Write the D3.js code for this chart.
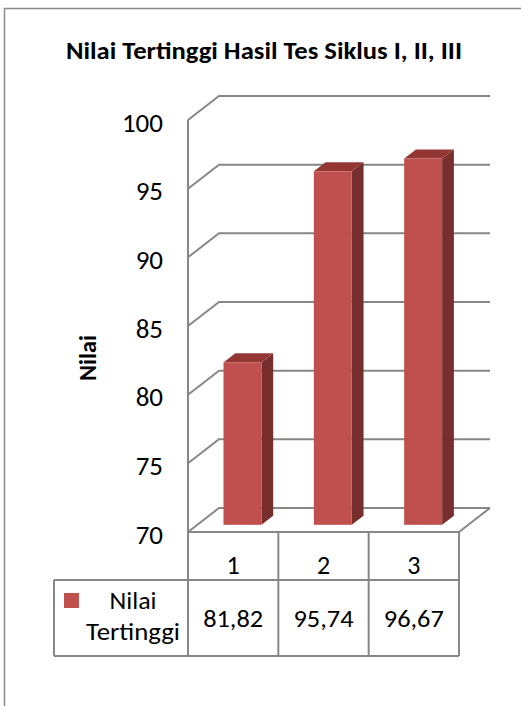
<!DOCTYPE html>
<html>
<head>
<meta charset="utf-8">
<script src="https://cdn.jsdelivr.net/npm/d3@7"></script>
<style>
  body { margin: 0; background: #fff; }
  svg text { font-family: Carlito, Lato, "Open Sans", sans-serif; fill: #000; }
</style>
</head>
<body>
<div id="chart"></div>
<script>
// chart data
var categories = ["1", "2", "3"];
var values = [81.82, 95.74, 96.67];
var valueLabels = ["81,82", "95,74", "96,67"];
var yTicks = [70, 75, 80, 85, 90, 95, 100];
var seriesName = ["Nilai", "Tertinggi"];
var chartTitle = "Nilai Tertinggi Hasil Tes Siklus I, II, III";
var yTitle = "Nilai";

var svgWidth = 521;
var svgHeight = 706;

var gridColor = "#878787";
var barFront = "#C0504D";
var barTop = "#943634";
var barSide = "#772F2D";

// depth of the 3d box (offset of the back wall)
var depthX = 31;
var depthY = -24;
function off(t) { return [depthX * t, depthY * t]; }

var svg = d3.select("#chart")
  .append("svg")
  .attr("width", svgWidth)
  .attr("height", svgHeight);

// outer frame (cut off at right / bottom)
svg.append("path")
  .attr("d", "M4.5,710 L4.5,8.5 L530,8.5")
  .attr("fill", "none")
  .attr("stroke", "#8a8a8a")
  .attr("stroke-width", 1.5);

// title
svg.append("text")
  .attr("x", 264)
  .attr("y", 59)
  .attr("text-anchor", "middle")
  .attr("font-weight", "bold")
  .attr("font-size", 24)
  .attr("textLength", 396)
  .attr("lengthAdjust", "spacingAndGlyphs")
  .text(chartTitle);

// scales (front plane)
var yScale = d3.scaleLinear().domain([70, 100]).range([532, 120]);
var xScale = d3.scaleBand().domain(categories).range([188, 459]).paddingInner(0).paddingOuter(0);

var grid = svg.append("g")
  .attr("fill", "none")
  .attr("stroke", gridColor)
  .attr("stroke-width", 2);

var d1 = off(1);
// side wall front edge
grid.append("line")
  .attr("x1", 188).attr("x2", 188)
  .attr("y1", yScale(100)).attr("y2", yScale(70));

// gridlines: diagonal on the side wall + horizontal on the back wall
yTicks.forEach(function(t) {
  var y = yScale(t);
  grid.append("path")
    .attr("d", "M188," + y + " L" + (188 + d1[0]) + "," + (y + d1[1]) +
      " L" + (xScale.range()[1] + d1[0]) + "," + (y + d1[1]));
});

// floor front edge and right edge
grid.append("path")
  .attr("d", "M188,532 L459,532 L" + (459 + d1[0]) + "," + (532 + d1[1]));

// y tick labels
var yAxis = d3.axisLeft(yScale).tickValues(yTicks).tickSize(0).tickPadding(25);
var yAxisG = svg.append("g")
  .attr("transform", "translate(188,11)")
  .call(yAxis);
yAxisG.select(".domain").remove();
yAxisG.selectAll("text")
  .attr("dy", 0)
  .attr("font-size", 27)
  .style("font-family", "Carlito, Lato, sans-serif")
  .attr("fill", "#000");

// y axis title
svg.append("text")
  .attr("transform", "translate(96,358) rotate(-90)")
  .attr("text-anchor", "middle")
  .attr("font-weight", "bold")
  .attr("font-size", 25)
  .attr("textLength", 46)
  .attr("lengthAdjust", "spacingAndGlyphs")
  .text(yTitle);

// 3d bars
var tFront = 0.3, tBack = 0.68;
var barW = xScale.bandwidth() * 0.42;
var bars = svg.append("g");
values.forEach(function(v, i) {
  var f = off(tFront), b = off(tBack);
  var x0 = xScale(categories[i]) + (xScale.bandwidth() - barW) / 2 + f[0];
  var x1 = x0 + barW;
  var yTop = yScale(v) + f[1];
  var yBot = yScale(70) + f[1];
  var dx = b[0] - f[0], dy = b[1] - f[1];
  // side
  bars.append("path")
    .attr("d", "M" + x1 + "," + yTop + " L" + (x1 + dx) + "," + (yTop + dy) +
      " L" + (x1 + dx) + "," + (yBot + dy) + " L" + x1 + "," + yBot + "Z")
    .attr("fill", barSide);
  // top
  bars.append("path")
    .attr("d", "M" + x0 + "," + yTop + " L" + (x0 + dx) + "," + (yTop + dy) +
      " L" + (x1 + dx) + "," + (yTop + dy) + " L" + x1 + "," + yTop + "Z")
    .attr("fill", barTop);
  // front
  bars.append("rect")
    .attr("x", x0).attr("y", yTop)
    .attr("width", barW).attr("height", yBot - yTop)
    .attr("fill", barFront);
});

// data table
var table = svg.append("g")
  .attr("fill", "none")
  .attr("stroke", gridColor)
  .attr("stroke-width", 2);
var row1 = 532, row2 = 580, row3 = 656, legendX = 54;
table.append("path")
  .attr("d", "M188," + row1 + " L188," + row3 + " M459," + row1 + " L459," + row3 +
    " M" + legendX + "," + row2 + " L459," + row2 +
    " M" + legendX + "," + row3 + " L459," + row3 +
    " M" + legendX + "," + row2 + " L" + legendX + "," + row3);
categories.forEach(function(c) {
  table.append("line")
    .attr("x1", xScale(c) + xScale.bandwidth()).attr("x2", xScale(c) + xScale.bandwidth())
    .attr("y1", row1).attr("y2", row3);
});

svg.append("g").selectAll("text")
  .data(categories)
  .enter()
  .append("text")
  .attr("x", d => xScale(d) + xScale.bandwidth() / 2)
  .attr("y", 574)
  .attr("text-anchor", "middle")
  .attr("font-size", 26)
  .text(d => d);

svg.append("g").selectAll("text")
  .data(valueLabels)
  .enter()
  .append("text")
  .attr("x", (d, i) => xScale(categories[i]) + xScale.bandwidth() / 2)
  .attr("y", 627)
  .attr("text-anchor", "middle")
  .attr("font-size", 25)
  .attr("textLength", 60)
  .attr("lengthAdjust", "spacingAndGlyphs")
  .text(d => d);

// legend key
svg.append("rect")
  .attr("x", 64).attr("y", 593)
  .attr("width", 15).attr("height", 15)
  .attr("fill", barFront);
svg.append("text")
  .attr("x", 133).attr("y", 609)
  .attr("text-anchor", "middle")
  .attr("font-size", 25)
  .attr("textLength", 47)
  .attr("lengthAdjust", "spacingAndGlyphs")
  .text(seriesName[0]);
svg.append("text")
  .attr("x", 133).attr("y", 640)
  .attr("text-anchor", "middle")
  .attr("font-size", 25)
  .attr("textLength", 94)
  .attr("lengthAdjust", "spacingAndGlyphs")
  .text(seriesName[1]);
</script>
</body>
</html>
